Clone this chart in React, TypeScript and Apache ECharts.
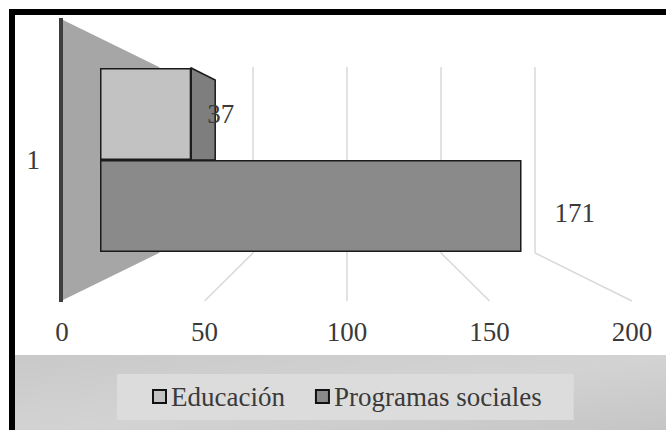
import React, { useEffect, useRef } from "react";
import * as echarts from "echarts";

const categories = ["1"];
const seriesNames = ["Educación", "Programas sociales"];
const educacion = [37];
const programas = [171];
const axisMin = 0;
const axisMax = 200;
const axisInterval = 50;
const tickValues = [0, 50, 100, 150, 200];

const FONT = "Liberation Serif";
const FS = 27;
const TEXT = "#3a3a3a";

export default function App() {
  const ref = useRef<HTMLDivElement>(null);
  useEffect(() => {
    if (!ref.current) return;
    const chart = echarts.init(ref.current, undefined, { renderer: "svg" });
    const option: any = {
      animation: false,
      backgroundColor: "#ffffff",
      textStyle: { fontFamily: FONT },
      legend: {
        data: seriesNames,
        left: 117,
        top: 374,
        padding: [9, 32, 10, 35],
        backgroundColor: "#dcdcdc",
        itemWidth: 13,
        itemHeight: 13,
        itemGap: 30,
        icon: "rect",
        itemStyle: { borderColor: "#111", borderWidth: 2 },
        textStyle: { fontFamily: FONT, fontSize: FS, color: TEXT },
      },
      grid: [
        { left: 100, top: 68, width: 493, height: 184 },
        { left: 159, top: 67, width: 376, height: 186 },
        { left: 62, top: 300, width: 570, height: 1 },
      ],
      xAxis: [
        { gridIndex: 0, type: "value", min: axisMin, max: axisMax, show: false },
        {
          gridIndex: 1, type: "value", min: axisMin, max: axisMax, interval: axisInterval,
          axisLine: { show: false }, axisTick: { show: false }, axisLabel: { show: false },
          splitLine: { show: true, lineStyle: { color: "#d9d9d9", width: 1.5 } },
        },
        {
          gridIndex: 2, type: "value", min: axisMin, max: axisMax, interval: axisInterval,
          axisLine: { show: false }, axisTick: { show: false }, splitLine: { show: false },
          axisLabel: { fontFamily: FONT, fontSize: FS, color: TEXT, margin: 17 },
        },
      ],
      yAxis: [
        {
          gridIndex: 0, type: "category", data: categories,
          axisLine: { show: false }, axisTick: { show: false },
          axisLabel: { fontFamily: FONT, fontSize: FS, color: TEXT, margin: 60 },
        },
        { gridIndex: 1, type: "value", show: false },
        { gridIndex: 2, type: "value", show: false },
      ],
      series: [
        {
          type: "custom",
          name: "side",
          xAxisIndex: 0,
          yAxisIndex: 0,
          z: 3,
          silent: true,
          data: educacion.map((v, i) => [v, i]),
          renderItem: (params: any, api: any) => {
            const p = api.coord([api.value(0), api.value(1)]);
            const band = api.size([0, 1])[1];
            const top = p[1] - band / 2;
            const bottom = p[1];
            return {
              type: "polygon",
              shape: { points: [[p[0], top], [p[0] + 24, top + 12], [p[0] + 24, bottom], [p[0], bottom]] },
              style: { fill: "#7e7e7e", stroke: "#1a1a1a", lineWidth: 1.5 },
            };
          },
        },
        {
          type: "bar",
          name: seriesNames[0],
          xAxisIndex: 0,
          yAxisIndex: 0,
          data: educacion,
          barWidth: 92,
          barGap: "0%",
          z: 4,
          itemStyle: { color: "#c2c2c2", borderColor: "#1a1a1a", borderWidth: 1.5 },
          label: {
            show: true, position: "right", distance: 16,
            fontFamily: FONT, fontSize: FS, color: TEXT,
          },
        },
        {
          type: "bar",
          name: seriesNames[1],
          xAxisIndex: 0,
          yAxisIndex: 0,
          data: programas,
          barWidth: 92,
          barGap: "0%",
          z: 4,
          itemStyle: { color: "#8a8a8a", borderColor: "#1a1a1a", borderWidth: 1.5 },
          label: {
            show: true, position: "right", distance: 33, offset: [0, 7],
            fontFamily: FONT, fontSize: FS, color: TEXT,
          },
        },
      ],
    };
    chart.setOption(option);

    // perspective decorations derived from the axes
    const backTop = 67;
    const backBottom = 253;
    const frontTop = 19;
    const frontBottom = 301;
    const backX = (v: number) => chart.convertToPixel({ xAxisIndex: 1 }, v) as number;
    const frontX = (v: number) => chart.convertToPixel({ xAxisIndex: 2 }, v) as number;
    const floorLines = tickValues.slice(1).map((v) => ({
      type: "line",
      z: 1,
      shape: { x1: backX(v), y1: backBottom, x2: frontX(v), y2: frontBottom },
      style: { stroke: "#d9d9d9", lineWidth: 1.5 },
    }));
    const w0b = backX(axisMin);
    const w0f = frontX(axisMin) - 1;
    chart.setOption({
      graphic: [
        {
          type: "rect", z: 0, silent: true,
          shape: { x: 15, y: 355, width: 660, height: 80 },
          style: {
            fill: new echarts.graphic.LinearGradient(0, 0, 1, 1, [
              { offset: 0, color: "#c9c9c9" },
              { offset: 0.5, color: "#d3d3d3" },
              { offset: 1, color: "#c4c4c4" },
            ]),
          },
        },
        ...floorLines,
        {
          type: "polygon", z: 1, silent: true,
          shape: { points: [[w0f, frontTop], [w0b, backTop], [w0b, backBottom], [w0f, frontBottom]] },
          style: { fill: "#a6a6a6" },
        },
        {
          type: "line", z: 1, silent: true,
          shape: { x1: w0f, y1: frontTop - 1, x2: w0f, y2: frontBottom + 1 },
          style: { stroke: "#3e3e3e", lineWidth: 4 },
        },
        {
          type: "rect", z: 100, silent: true,
          shape: { x: 12, y: 12, width: 700, height: 500 },
          style: { fill: "none", stroke: "#000", lineWidth: 6 },
        },
      ],
    });
    return () => chart.dispose();
  }, []);
  return <div ref={ref} style={{ position: "absolute", left: 0, top: 0, width: 666, height: 430 }} />;
}
